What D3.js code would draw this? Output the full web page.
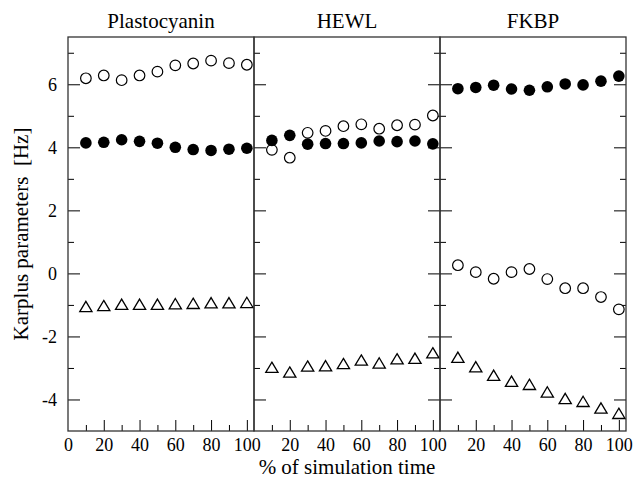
<!DOCTYPE html>
<html>
<head>
<meta charset="utf-8">
<script src="https://cdn.jsdelivr.net/npm/d3@7"></script>
<style>
  body { margin: 0; background: white; }
  svg text { font-family: "Liberation Serif", "Times New Roman", Times, "DejaVu Serif", serif; fill: black; }
</style>
</head>
<body>
<script>
// data
const xValues = [10, 20, 30, 40, 50, 60, 70, 80, 90, 100]
const panelNames = ["Plastocyanin", "HEWL", "FKBP"]

const plastoFilled = [4.14, 4.16, 4.24, 4.19, 4.13, 4.00, 3.93, 3.90, 3.94, 3.97]
const plastoOpen = [6.19, 6.28, 6.13, 6.28, 6.40, 6.60, 6.66, 6.75, 6.67, 6.62]
const plastoTri = [-1.05, -1.02, -0.98, -0.98, -0.98, -0.96, -0.95, -0.93, -0.93, -0.92]

const hewlFilled = [4.22, 4.38, 4.10, 4.12, 4.12, 4.14, 4.20, 4.18, 4.20, 4.11]
const hewlOpen = [3.92, 3.67, 4.46, 4.52, 4.67, 4.73, 4.59, 4.70, 4.72, 5.01]
const hewlTri = [-2.98, -3.13, -2.94, -2.93, -2.86, -2.75, -2.84, -2.71, -2.69, -2.52]

const fkbpFilled = [5.86, 5.90, 5.97, 5.85, 5.81, 5.92, 6.01, 5.98, 6.10, 6.26]
const fkbpOpen = [0.26, 0.04, -0.17, 0.04, 0.14, -0.18, -0.47, -0.47, -0.75, -1.14]
const fkbpTri = [-2.66, -2.96, -3.23, -3.42, -3.52, -3.76, -3.97, -4.06, -4.27, -4.44]

const xMajor = [20, 40, 60, 80, 100]
const xMinor = [10, 30, 50, 70, 90]
const yMajor = [-4, -2, 0, 2, 4, 6]
const yMinor = [-3, -1, 1, 3, 5, 7]

const panelData = [
  {filled: plastoFilled, open: plastoOpen, tri: plastoTri},
  {filled: hewlFilled, open: hewlOpen, tri: hewlTri},
  {filled: fkbpFilled, open: fkbpOpen, tri: fkbpTri}
]

const w = 633
const h = 480
const plotLeft = 68
const panelW = 186
const plotTop = 37
const plotBottom = 431
const serif = "'Liberation Serif', 'Times New Roman', Times, 'DejaVu Serif', serif"

const svg = d3.select("body")
              .append("svg")
              .attr("width", w)
              .attr("height", h)
              .attr("font-family", serif)

const yScale = d3.scaleLinear()
                 .domain([-5, 7.5])
                 .range([plotBottom, plotTop])

// triangle centred on its bounding box, like the original plot
const triSymbol = {
  draw(ctx, size) {
    const s = Math.sqrt(size)
    ctx.moveTo(0, -s * 0.42)
    ctx.lineTo(s * 0.5, s * 0.42)
    ctx.lineTo(-s * 0.5, s * 0.42)
    ctx.closePath()
  }
}

panelData.forEach((pd, i) => {
  const x0 = plotLeft + i * panelW
  const xScale = d3.scaleLinear()
                   .domain([0, 104])
                   .range([x0, x0 + panelW])

  // title
  svg.append("text")
     .attr("x", x0 + panelW / 2)
     .attr("y", 28)
     .attr("text-anchor", "middle")
     .style("font-size", "21px")
     .text(panelNames[i])

  // bottom axis, ticks pointing up
  const xAxisMajor = d3.axisBottom(xScale)
                       .tickValues(i === 0 ? [0].concat(xMajor) : xMajor)
                       .tickSize(-11)
                       .tickPadding(7)
                       .tickFormat(d => String(d))
  const gx = svg.append("g")
                .attr("transform", "translate(0," + plotBottom + ")")
                .call(xAxisMajor)
  gx.selectAll(".tick line").filter(d => d === 0).remove()

  const xAxisMinor = d3.axisBottom(xScale)
                       .tickValues(xMinor)
                       .tickSize(-6)
                       .tickFormat("")
  svg.append("g")
     .attr("transform", "translate(0," + plotBottom + ")")
     .call(xAxisMinor)

  // left axis of the panel, ticks pointing right
  const yAxisMajor = d3.axisLeft(yScale)
                       .tickValues(yMajor)
                       .tickSize(-12)
                       .tickPadding(11)
                       .tickFormat(d => i === 0 ? String(d) : "")
  svg.append("g")
     .attr("transform", "translate(" + x0 + ",0)")
     .call(yAxisMajor)
  const yAxisMinor = d3.axisLeft(yScale)
                       .tickValues(yMinor)
                       .tickSize(-6)
                       .tickFormat("")
  svg.append("g")
     .attr("transform", "translate(" + x0 + ",0)")
     .call(yAxisMinor)

  // right side ticks for HEWL and FKBP
  if (i > 0) {
    svg.append("g")
       .attr("transform", "translate(" + (x0 + panelW) + ",0)")
       .call(d3.axisRight(yScale).tickValues(yMajor).tickSize(-12).tickFormat(""))
    svg.append("g")
       .attr("transform", "translate(" + (x0 + panelW) + ",0)")
       .call(d3.axisRight(yScale).tickValues(yMinor).tickSize(-6).tickFormat(""))
  }

  // frame
  svg.append("rect")
     .attr("x", x0)
     .attr("y", plotTop)
     .attr("width", panelW)
     .attr("height", plotBottom - plotTop)
     .attr("fill", "none")
     .attr("stroke", "#333")
     .attr("stroke-width", 1.3)

  const g = svg.append("g")

  g.selectAll(".tri")
   .data(pd.tri)
   .enter()
   .append("path")
   .attr("d", d3.symbol(triSymbol, 150))
   .attr("transform", (d, j) => "translate(" + xScale(xValues[j]) + "," + yScale(d) + ")")
   .attr("fill", "none")
   .attr("stroke", "black")
   .attr("stroke-width", 1.3)

  g.selectAll(".open")
   .data(pd.open)
   .enter()
   .append("circle")
   .attr("cx", (d, j) => xScale(xValues[j]))
   .attr("cy", d => yScale(d))
   .attr("r", 5.3)
   .attr("fill", "white")
   .attr("stroke", "black")
   .attr("stroke-width", 1.2)

  g.selectAll(".filled")
   .data(pd.filled)
   .enter()
   .append("circle")
   .attr("cx", (d, j) => xScale(xValues[j]))
   .attr("cy", d => yScale(d))
   .attr("r", 5.8)
   .attr("fill", "black")
})

svg.selectAll(".domain").remove()
svg.selectAll("g").attr("font-family", serif)
svg.selectAll("text")
   .style("font-family", serif)
   .attr("fill", "black")
svg.selectAll(".tick text").style("font-size", "18px")
svg.selectAll(".tick line").attr("stroke", "black")

// axis titles
svg.append("text")
   .attr("x", plotLeft + 1.5 * panelW)
   .attr("y", 474)
   .attr("text-anchor", "middle")
   .style("font-size", "21px")
   .style("font-family", serif)
   .text("% of simulation time")

svg.append("text")
   .attr("transform", "translate(28," + ((plotTop + plotBottom) / 2) + ") rotate(-90)")
   .attr("text-anchor", "middle")
   .style("font-size", "21px")
   .style("font-family", serif)
   .text("Karplus parameters\u00a0 [Hz]")
</script>
</body>
</html>
